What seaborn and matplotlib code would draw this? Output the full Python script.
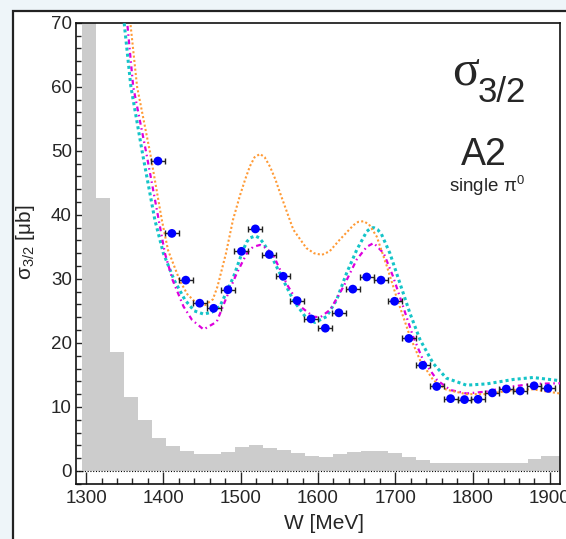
import matplotlib
matplotlib.use("Agg")
import matplotlib.pyplot as plt
from matplotlib.patches import Rectangle
from matplotlib.ticker import MultipleLocator
import numpy as np
import seaborn as sns

# measured points (A2, single pi0)
pt_w = [1393, 1411, 1429, 1447, 1465, 1483.5, 1501, 1519, 1537, 1555, 1573, 1591, 1609.5,
        1627, 1645, 1663, 1681.5, 1699, 1717.5, 1735.5, 1753.5, 1771.5, 1789.5, 1807,
        1825.5, 1843.5, 1861.5, 1879.5, 1897.5]
pt_sigma = [48.4, 37.1, 29.8, 26.2, 25.4, 28.3, 34.3, 37.8, 33.8, 30.4, 26.6, 23.75, 22.3,
            24.7, 28.4, 30.3, 29.8, 26.5, 20.7, 16.5, 13.2, 11.3, 11.15, 11.2,
            12.2, 12.8, 12.5, 13.3, 12.9]
w_err = 9.0

# model curves
orange_w = [1345, 1357, 1366, 1383, 1398, 1406, 1421, 1431, 1442, 1454, 1464, 1470, 1481,
            1490, 1499, 1506, 1512, 1518, 1525, 1531, 1538, 1545, 1551, 1568, 1585, 1595,
            1605, 1615, 1628, 1646, 1652, 1659, 1666, 1676, 1689, 1702, 1719, 1732, 1749,
            1766, 1792, 1818, 1853, 1878, 1913]
orange_s = [84, 70.3, 60, 49.6, 39.2, 34.5, 29.8, 27.6, 26.3, 25.9, 26.8, 28.8, 34.0,
            39.2, 43.0, 45.6, 47.6, 49.0, 49.5, 49.0, 47.5, 45.5, 43.4, 37.7, 34.8, 34.0,
            33.75, 34.3, 36.1, 38.4, 38.9, 39.0, 38.5, 36.6, 32.0, 27.0, 21.0, 17.3, 14.2,
            12.7, 12.0, 12.0, 12.65, 12.75, 12.1]

cyan_w = [1340, 1349, 1358, 1373, 1389, 1400, 1414, 1428, 1440, 1452, 1463, 1473, 1482,
          1491, 1503, 1508, 1512, 1519, 1524, 1530, 1542, 1555, 1568, 1585, 1596, 1611,
          1624, 1637, 1650, 1663, 1668, 1672, 1677, 1682, 1693, 1706, 1719, 1732, 1749,
          1766, 1792, 1818, 1853, 1878, 1913]
cyan_s = [80, 70.3, 60, 49.6, 39.2, 34, 29.8, 26.7, 25.0, 24.5, 24.8, 25.7, 28.0,
          30.4, 34.5, 35.8, 36.4, 36.7, 36.4, 35.5, 33.0, 29.8, 26.7, 23.85, 23.2, 24.1,
          26.7, 30.9, 34.5, 37.4, 37.9, 38.0, 37.7, 37.0, 34.0, 29.3, 24.6, 20.5, 16.8,
          14.5, 13.4, 13.6, 14.3, 14.6, 14.1]

magenta_w = [1342, 1353, 1361, 1378, 1394, 1402, 1412, 1426, 1437, 1452, 1469, 1482, 1495,
             1508, 1516, 1525, 1533, 1542, 1560, 1577, 1594, 1603, 1616, 1633, 1650, 1663,
             1672, 1685, 1697, 1710, 1723, 1736, 1754, 1771, 1792, 1818, 1844, 1878, 1913]
magenta_s = [80, 70.3, 60, 49.6, 39.2, 34, 29.8, 25.7, 23.6, 22.1, 23.3, 27.2, 30.9,
             34.0, 35.0, 35.3, 34.8, 33.75, 29.1, 25.7, 24.1, 24.0, 25.2, 28.8, 33.0, 35.0,
             35.6, 34.0, 30.4, 25.7, 21.0, 17.3, 14.2, 12.65, 12.1, 12.4, 13.1, 13.6, 13.7]

# event distribution (grey histogram, arbitrary scale)
hist_edges = [1295, 1313, 1331, 1349, 1367, 1385, 1403, 1421, 1439, 1457, 1475, 1493, 1511,
              1529, 1547, 1565, 1583, 1601, 1619, 1637, 1655, 1673, 1691, 1709, 1727, 1745,
              1763, 1781, 1799, 1817, 1835, 1853, 1871, 1889, 1913]
hist_counts = [80, 42.7, 18.6, 11.6, 7.9, 5.2, 3.9, 3.2, 2.7, 2.6, 3.0, 3.7, 4.0, 3.6, 3.3,
               2.8, 2.4, 2.2, 2.6, 3.0, 3.2, 3.2, 2.8, 2.2, 1.7, 1.3, 1.2, 1.2, 1.2, 1.25,
               1.3, 1.3, 1.9, 2.4]

sns.set_style("ticks")
plt.rcParams['font.family'] = ['Liberation Sans', 'DejaVu Sans']
plt.rcParams['mathtext.default'] = 'regular'

fig = plt.figure(figsize=(5.66, 5.39), dpi=100)
fig.patch.set_facecolor('#eef5f9')
pad = Rectangle((13/566, -0.02), 1.0, 1 - 11/539 + 0.02, transform=fig.transFigure,
                facecolor='white', edgecolor='#222222', linewidth=1.6, zorder=-10)
fig.patches.append(pad)

ax = fig.add_axes([76/566, 1 - 484/539, 484/566, (484 - 22.7)/539])
ax.set_facecolor('white')

hist_w = [(a + b) / 2 for a, b in zip(hist_edges[:-1], hist_edges[1:])]
sns.histplot(x=hist_w, weights=hist_counts, bins=hist_edges, element='bars', fill=True,
             color='#cccccc', alpha=1, linewidth=0, ax=ax, zorder=1)
ax.axhline(0, color='black', linestyle=(0, (1, 1.5)), linewidth=0.8, zorder=2)

sns.lineplot(x=cyan_w, y=cyan_s, color='#14c4c8', linestyle=(0, (1, 1)), linewidth=2.2,
             ax=ax, zorder=3)
sns.lineplot(x=magenta_w, y=magenta_s, color='#dd00dd', linestyle=(0, (2.2, 1.6, 0.7, 1.6)),
             linewidth=1.6, ax=ax, zorder=3)
sns.lineplot(x=orange_w, y=orange_s, color='#ff9a35', linestyle=(0, (1, 1.1)), linewidth=1.5,
             ax=ax, zorder=3)

ax.errorbar(pt_w, pt_sigma, xerr=w_err, fmt='none', ecolor='#222222', elinewidth=1,
            capsize=2.2, capthick=1, zorder=4)
sns.scatterplot(x=pt_w, y=pt_sigma, color='#0000ff', s=40, edgecolor='none', ax=ax, zorder=5)

ax.set_xlim(1287, 1913)
ax.set_ylim(-2.03, 70)
ax.xaxis.set_major_locator(MultipleLocator(100))
ax.xaxis.set_minor_locator(MultipleLocator(20))
ax.yaxis.set_major_locator(MultipleLocator(10))
ax.yaxis.set_minor_locator(MultipleLocator(2))
ax.tick_params(axis='x', which='major', direction='in', length=9, width=1, labelsize=13.5, pad=4)
ax.tick_params(axis='x', which='minor', direction='in', length=4.5, width=1)
ax.tick_params(axis='y', which='major', direction='in', length=5, width=1, labelsize=13.5, pad=3)
ax.tick_params(axis='y', which='minor', direction='in', length=3.5, width=1)
for s in ax.spines.values():
    s.set_linewidth(1.2)
    s.set_color('#111111')

ax.set_xlabel('W [MeV]', fontsize=15)
ax.xaxis.set_label_coords(0.512, -0.065)
ax.xaxis.label.set_va('top')
ax.set_ylabel('$σ_{3/2}$ [μb]', fontsize=15)
ax.yaxis.set_label_coords(-0.08, 0.525)

ax.text(0.777, 0.865, 'σ', transform=ax.transAxes, fontsize=36, family='Liberation Serif',
        ha='left', va='baseline')
ax.text(0.83, 0.828, '3/2', transform=ax.transAxes, fontsize=25, ha='left', va='baseline')
ax.text(0.843, 0.6915, 'A2', transform=ax.transAxes, fontsize=27, ha='center', va='baseline')
ax.text(0.849, 0.634, 'single π$^0$', transform=ax.transAxes, fontsize=13.5, ha='center',
        va='baseline')

plt.savefig('out.png', dpi=100, facecolor=fig.get_facecolor())
